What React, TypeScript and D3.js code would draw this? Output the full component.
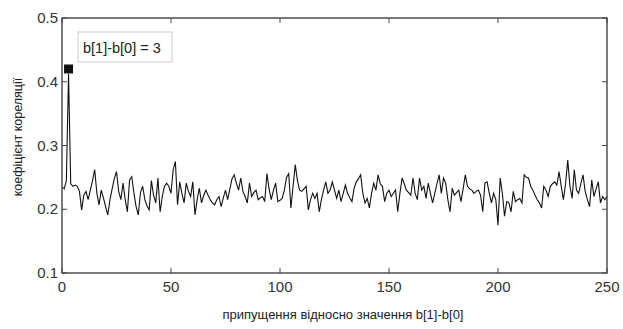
import React from "react";
import * as d3 from "d3";

const values: number[] = [
  0.235, 0.232, 0.245, 0.412, 0.240, 0.236, 0.238, 0.236, 0.228, 0.199,
  0.222, 0.228, 0.215, 0.230, 0.245, 0.262, 0.225, 0.207, 0.230, 0.218,
  0.204, 0.191, 0.215, 0.232, 0.248, 0.259, 0.228, 0.215, 0.241, 0.215,
  0.196, 0.246, 0.251, 0.225, 0.204, 0.191, 0.226, 0.236, 0.215, 0.205,
  0.199, 0.245, 0.222, 0.210, 0.249, 0.196, 0.220, 0.236, 0.241, 0.236,
  0.225, 0.262, 0.275, 0.207, 0.243, 0.225, 0.210, 0.241, 0.228, 0.220,
  0.243, 0.191, 0.215, 0.233, 0.210, 0.222, 0.230, 0.222, 0.215, 0.210,
  0.207, 0.215, 0.220, 0.204, 0.218, 0.230, 0.215, 0.232, 0.248, 0.254,
  0.241, 0.230, 0.249, 0.228, 0.220, 0.210, 0.241, 0.220, 0.226, 0.230,
  0.215, 0.218, 0.220, 0.212, 0.256, 0.232, 0.215, 0.230, 0.241, 0.212,
  0.214, 0.217, 0.230, 0.250, 0.256, 0.202, 0.236, 0.270, 0.245, 0.230,
  0.228, 0.232, 0.236, 0.199, 0.215, 0.225, 0.217, 0.225, 0.196, 0.215,
  0.230, 0.243, 0.225, 0.230, 0.243, 0.230, 0.217, 0.230, 0.212, 0.225,
  0.238, 0.225, 0.218, 0.212, 0.233, 0.243, 0.248, 0.254, 0.225, 0.210,
  0.217, 0.202, 0.225, 0.241, 0.230, 0.254, 0.240, 0.236, 0.212, 0.225,
  0.230, 0.220, 0.225, 0.230, 0.196, 0.225, 0.249, 0.240, 0.230, 0.226,
  0.222, 0.249, 0.225, 0.215, 0.249, 0.230, 0.236, 0.217, 0.241, 0.225,
  0.210, 0.225, 0.240, 0.254, 0.225, 0.249, 0.241, 0.215, 0.196, 0.233,
  0.222, 0.226, 0.230, 0.212, 0.232, 0.254, 0.236, 0.232, 0.230, 0.225,
  0.228, 0.230, 0.222, 0.196, 0.241, 0.243, 0.225, 0.210, 0.225, 0.215,
  0.175, 0.249, 0.225, 0.189, 0.212, 0.210, 0.196, 0.228, 0.212, 0.215,
  0.217, 0.210, 0.254, 0.250, 0.249, 0.236, 0.230, 0.222, 0.215, 0.210,
  0.202, 0.236, 0.230, 0.220, 0.236, 0.240, 0.243, 0.238, 0.259, 0.236,
  0.215, 0.240, 0.277, 0.236, 0.217, 0.262, 0.230, 0.225, 0.240, 0.254,
  0.228, 0.215, 0.204, 0.246, 0.220, 0.232, 0.243, 0.210, 0.220, 0.215,
  0.220,
];

const xTicks: number[] = [0, 50, 100, 150, 200, 250];
const yTicks: number[] = [0.1, 0.2, 0.3, 0.4, 0.5];
const markerPoint = { x: 3, y: 0.42 };
const legendText = "b[1]-b[0] = 3";
const xTitle = "припущення відносно значення b[1]-b[0]";
const yTitle = "коефіцієнт кореляції";

export default function App() {
  const W = 623;
  const H = 329;
  const left = 62;
  const right = 607;
  const top = 18;
  const bottom = 273;

  const x = d3.scaleLinear().domain([0, 250]).range([left, right]);
  const y = d3.scaleLinear().domain([0.1, 0.5]).range([bottom, top]);

  const line = d3
    .line<number>()
    .x((_, i) => x(i))
    .y((d) => y(d));

  const tickLen = 5;
  const frameColor = "#444";
  const font = "'Liberation Sans', Arial, Helvetica, sans-serif";

  return (
    <svg
      width={W}
      height={H}
      style={{ position: "absolute", left: 0, top: 0, background: "#fff" }}
      fontFamily={font}
    >
      <rect x={0} y={0} width={W} height={H} fill="#fff" />
      <path d={line(values) || ""} fill="none" stroke="#111" strokeWidth={1.1} />
      <rect
        x={left}
        y={top}
        width={right - left}
        height={bottom - top}
        fill="none"
        stroke={frameColor}
        strokeWidth={1.4}
      />
      {xTicks.map((t) => (
        <g key={"x" + t}>
          <line x1={x(t)} x2={x(t)} y1={bottom} y2={bottom - tickLen} stroke={frameColor} strokeWidth={1} />
          <line x1={x(t)} x2={x(t)} y1={top} y2={top + tickLen} stroke={frameColor} strokeWidth={1} />
          <text x={x(t)} y={292} textAnchor="middle" fontSize={15} fill="#333">
            {t}
          </text>
        </g>
      ))}
      {yTicks.map((t) => (
        <g key={"y" + t}>
          <line x1={left} x2={left + tickLen} y1={y(t)} y2={y(t)} stroke={frameColor} strokeWidth={1} />
          <line x1={right} x2={right - tickLen} y1={y(t)} y2={y(t)} stroke={frameColor} strokeWidth={1} />
          <text x={58} y={y(t) + 5} textAnchor="end" fontSize={15} fill="#333">
            {t.toFixed(1)}
          </text>
        </g>
      ))}
      <rect x={x(markerPoint.x) - 4.5} y={y(markerPoint.y) - 4.5} width={9} height={9} fill="#111" />
      <rect x={78} y={32} width={94} height={30} fill="#fff" stroke="#ccc" strokeWidth={1} />
      <text x={83} y={53} fontSize={14.5} fill="#222">
        {legendText}
      </text>
      <text x={343} y={319} textAnchor="middle" fontSize={13} fill="#222">
        {xTitle}
      </text>
      <text
        transform={`translate(22, 137) rotate(-90)`}
        textAnchor="middle"
        fontSize={12.5}
        fill="#222"
      >
        {yTitle}
      </text>
    </svg>
  );
}
